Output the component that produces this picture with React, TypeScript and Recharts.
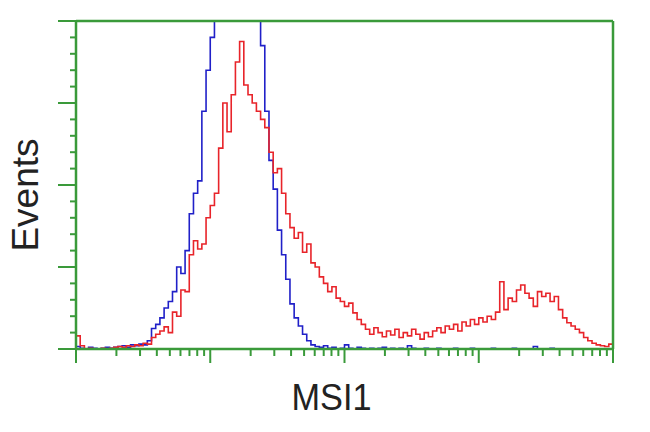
import { LineChart, Line, XAxis, YAxis, ReferenceLine } from 'recharts'

// histogram counts per channel (128 channels over 4 log decades)
const isotypeCounts = [
  3, 1, 0, 2, 1, 0, 1, 2, 1, 2,
  3, 4, 2, 5, 4, 6, 5, 10, 25, 30,
  38, 50, 58, 70, 100, 92, 120, 165, 190, 205,
  290, 340, 380, 420, 450, 480, 505, 520, 530, 525,
  510, 485, 450, 410, 370, 290, 230, 195, 145, 115,
  85, 55, 38, 28, 18, 10, 5, 3, 2, 4,
  1, 2, 0, 1, 5, 1, 0, 2, 1, 0,
  1, 0, 1, 2, 0, 1, 0, 1, 0, 4,
  1, 0, 0, 1, 0, 0, 1, 0, 0, 0,
  1, 0, 0, 0, 1, 0, 0, 0, 0, 1,
  0, 0, 0, 0, 1, 0, 0, 0, 0, 3,
  0, 0, 0, 1, 0, 0, 0, 0, 0, 0,
  0, 0, 0, 0, 0, 0, 0, 0, 0,
]

const msi1Counts = [
  16, 4, 0, 1, 0, 0, 1, 0, 1, 2,
  3, 2, 4, 3, 5, 4, 7, 6, 14, 18,
  22, 27, 20, 45, 40, 72, 70, 115, 132, 122,
  128, 160, 175, 190, 245, 300, 265, 310, 350, 375,
  322, 310, 300, 290, 280, 270, 240, 215, 220, 190,
  165, 148, 135, 142, 118, 128, 105, 100, 88, 80,
  70, 76, 62, 58, 52, 56, 44, 36, 30, 24,
  18, 26, 20, 15, 22, 17, 24, 14, 20, 16,
  24, 18, 12, 20, 15, 22, 26, 20, 28, 24,
  30, 22, 33, 28, 36, 30, 38, 33, 40, 36,
  45, 82, 48, 62, 58, 72, 78, 68, 62, 52,
  70, 64, 68, 58, 64, 48, 38, 32, 28, 24,
  20, 14, 10, 7, 5, 4, 3, 6, 10,
]

const decades = [0, 1, 2, 3]
const multiples = [1, 2, 3, 4, 5, 6, 7, 8, 9]
const channelsPerDecade = 32
const yMajorStep = 100
const yMinorStep = 20
const yMax = 400

const GREEN = '#3a9a3a'

const xMax = decades.length * channelsPerDecade
const xTicks = [
  ...decades.flatMap((d) => multiples.map((m) => channelsPerDecade * (d + Math.log10(m)))),
  xMax,
]
const yTicks = Array.from({ length: yMax / yMinorStep + 1 }, (_, i) => i * yMinorStep)

const data = msi1Counts.map((v, i) => ({ ch: i, msi1: v, isotype: isotypeCounts[i] }))

const XTick = ({ x, y, payload }: any) => {
  const r = payload.value / channelsPerDecade
  const major = Math.abs(r - Math.round(r)) < 1e-6
  return <line x1={x} x2={x} y1={y} y2={y + (major ? 14 : 7)} stroke={GREEN} strokeWidth={2} />
}

const YTick = ({ x, y, payload }: any) => {
  const major = payload.value % yMajorStep === 0
  return <line x1={x - (major ? 18 : 6)} x2={x} y1={y} y2={y} stroke={GREEN} strokeWidth={2} />
}

const XLabel = ({ viewBox }: any) => (
  <text
    x={viewBox.x + viewBox.width / 2 - 13}
    y={viewBox.y + 61}
    textAnchor="middle"
    fontSize={37}
    fill="#222"
    fontFamily="Liberation Sans, Arial, sans-serif"
    textLength={80}
    lengthAdjust="spacingAndGlyphs"
  >
    MSI1
  </text>
)

const YLabel = ({ viewBox }: any) => {
  const cx = 38
  const cy = viewBox.y + viewBox.height / 2 + 10
  return (
    <text
      x={cx}
      y={cy}
      transform={`rotate(-90 ${cx} ${cy})`}
      textAnchor="middle"
      fontSize={37}
      fill="#222"
      fontFamily="Liberation Sans, Arial, sans-serif"
    >
      Events
    </text>
  )
}

export default function App() {
  return (
    <div style={{ width: 650, height: 432, background: '#fff' }}>
      <style>{'body{margin:0}'}</style>
      <LineChart width={650} height={432} data={data} margin={{ top: 21, right: 37, left: 0, bottom: 0 }}>
        <XAxis
          dataKey="ch"
          type="number"
          domain={[0, xMax]}
          ticks={xTicks}
          interval={0}
          tickLine={false}
          tickSize={0}
          tickMargin={0}
          tick={<XTick />}
          height={83}
          axisLine={{ stroke: GREEN, strokeWidth: 2.5 }}
          label={XLabel}
        />
        <YAxis
          type="number"
          domain={[0, yMax]}
          ticks={yTicks}
          interval={0}
          allowDataOverflow
          tickLine={false}
          tickSize={0}
          tickMargin={0}
          tick={<YTick />}
          width={76}
          axisLine={{ stroke: GREEN, strokeWidth: 2.5 }}
          label={YLabel}
        />
        <Line
          dataKey="isotype"
          type="stepAfter"
          stroke="#2020c8"
          strokeWidth={1.6}
          dot={false}
          isAnimationActive={false}
        />
        <Line
          dataKey="msi1"
          type="stepAfter"
          stroke="#e8242a"
          strokeWidth={1.6}
          dot={false}
          isAnimationActive={false}
        />
        <ReferenceLine y={yMax} stroke={GREEN} strokeWidth={2.5} />
        <ReferenceLine x={xMax} stroke={GREEN} strokeWidth={2.5} />
      </LineChart>
    </div>
  )
}
